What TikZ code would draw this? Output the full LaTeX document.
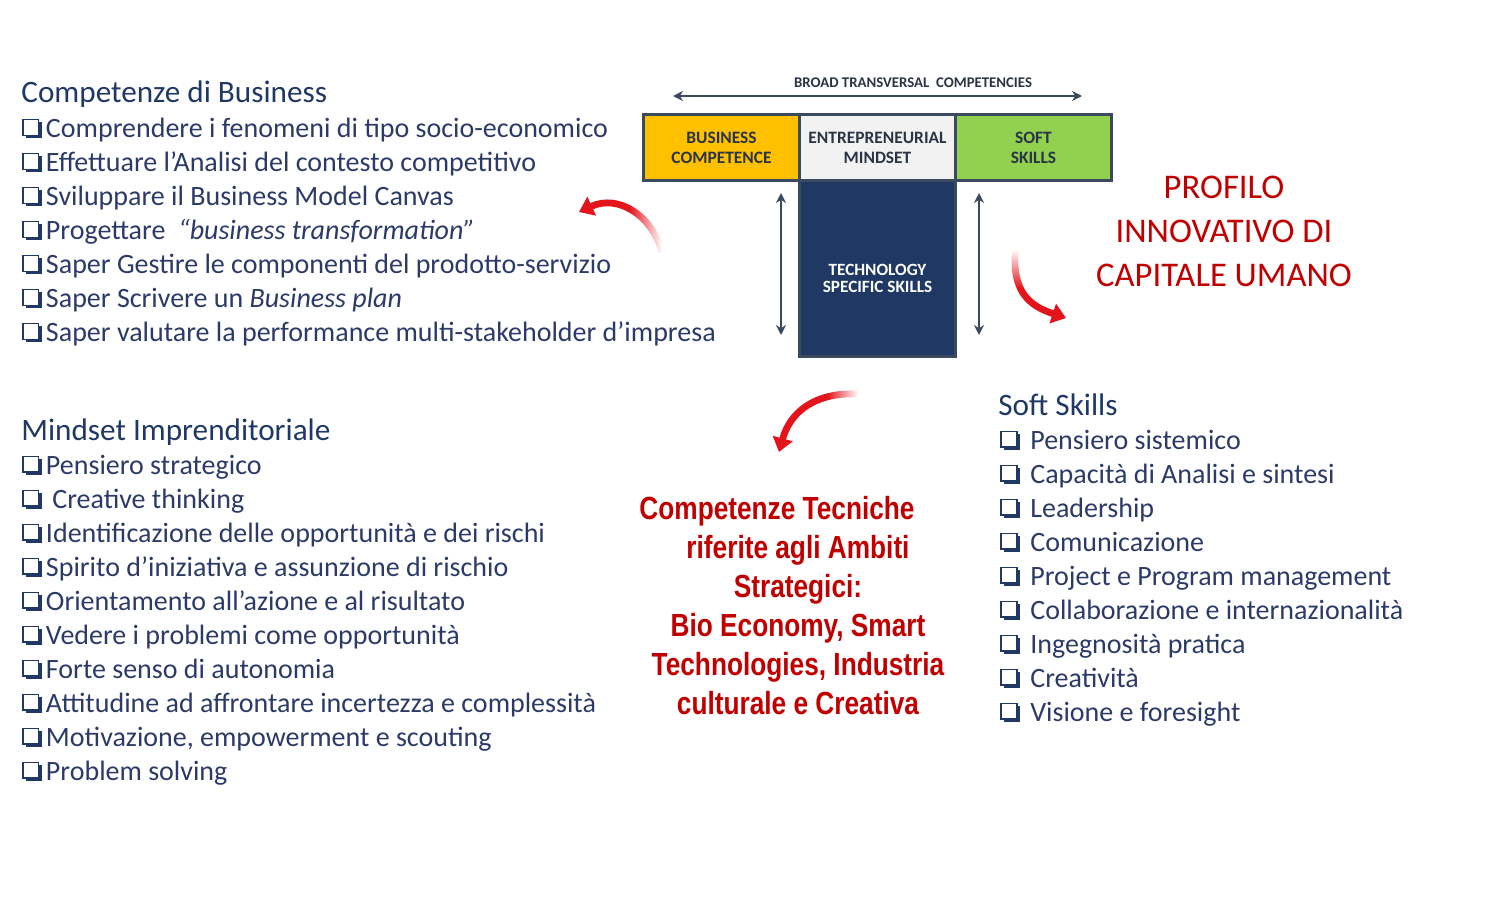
\documentclass[tikz,border=0pt]{standalone}
\usepackage{fontspec}
\setmainfont{Carlito}
\newfontfamily\narrowfont[FakeStretch=0.82]{Liberation Sans}
\usepackage{xcolor}
\usepackage{tikz}
\usetikzlibrary{arrows.meta,positioning,fadings}
\definecolor{NavyText}{HTML}{1F3864}
\definecolor{ItemText}{HTML}{2B3A67}
\definecolor{CellText}{HTML}{2B3445}
\definecolor{BizYellow}{HTML}{FFC000}
\definecolor{MindGrey}{HTML}{F2F2F2}
\definecolor{SoftGreen}{HTML}{92D050}
\definecolor{TechNavy}{HTML}{1F3864}
\definecolor{FrameSlate}{HTML}{3B4A5E}
\definecolor{ProfileRed}{HTML}{C00000}
\definecolor{ArrowRed}{HTML}{E3141B}
% shadowed check box
\newcommand{\chk}{\tikz[baseline=0pt,x=1pt,y=1pt]{\fill[NavyText] (1.6,-0.3) rectangle (9.8,7.9); \filldraw[NavyText,fill=white,line width=0.7pt] (0.35,1.25) rectangle (8.2,9.1);}\hspace{2pt}}
% fade out only the tail of the red arrows
\pgfdeclarehorizontalshading{tailshadeE}{100bp}{color(0bp)=(white); color(55bp)=(white); color(73bp)=(black); color(100bp)=(black)}
\pgfdeclareverticalshading{tailshadeN}{100bp}{color(0bp)=(white); color(46bp)=(white); color(70bp)=(black); color(100bp)=(black)}
\tikzfading[name=fadetaileast, shading=tailshadeE]
\tikzfading[name=fadetailnorth, shading=tailshadeN]

\begin{document}
\begin{tikzpicture}[
  x=0.5pt, y=-0.5pt,
  head/.style={anchor=base west,inner sep=0pt,text=NavyText,font=\fontsize{15.6}{19}\selectfont},
  items/.style={anchor=north west,inner sep=0pt,align=left,text=ItemText,font=\fontsize{14}{17}\selectfont},
  cell/.style={draw=FrameSlate,line width=1.5pt,outer sep=0pt,inner sep=0pt,minimum width=78pt,minimum height=32.7pt,align=center,text=CellText,font=\bfseries\fontsize{8.7}{10}\selectfont,execute at begin node=\rule{0pt}{8.3pt}},
  dbl/.style={{Stealth[length=5pt,width=5pt]}-{Stealth[length=5pt,width=5pt]},line width=1pt,FrameSlate},
  curl/.style={-{Triangle[length=7pt,width=10pt]},line width=3.4pt,ArrowRed}
]
  \useasboundingbox (0,0) rectangle (1500,900);

  % T-shaped competence model
  \node[cell, fill=BizYellow] (biz) at (721.5,147.5) {BUSINESS\\COMPETENCE};
  \node[cell, fill=MindGrey, right=0pt of biz] (mind) {ENTREPRENEURIAL\\MINDSET};
  \node[cell, fill=SoftGreen, right=0pt of mind] (soft) {SOFT\\SKILLS};
  \node[cell, fill=TechNavy, minimum height=88pt, below=0pt of mind] (tech) {};
  \node[text=white, font=\bfseries\fontsize{8.6}{8.7}\selectfont, align=center] (techtext) at ([yshift=-5pt]tech.center) {TECHNOLOGY\\SPECIFIC SKILLS};

  \node[font=\bfseries\fontsize{7.4}{9}\selectfont, text=CellText] (broad) at (913,83) {BROAD TRANSVERSAL\ \ COMPETENCIES};
  \coordinate (broadL) at (673,96);
  \coordinate (broadR) at (1082,96);
  \draw[dbl] (broadL) -- (broadR);

  \coordinate (depthLtop) at (781,193);
  \coordinate (depthLbot) at (781,335);
  \coordinate (depthRtop) at (979,193);
  \coordinate (depthRbot) at (979,335);
  \draw[dbl] (depthLtop) -- (depthLbot);
  \draw[dbl] (depthRtop) -- (depthRbot);

  % lists
  \node[head] (bizhead) at (21,102) {Competenze di Business};
  \node[items] (bizlist) at (22,118) {\chk Comprendere i fenomeni di tipo socio-economico\\
    \chk Effettuare l’Analisi del contesto competitivo\\
    \chk Sviluppare il Business Model Canvas\\
    \chk Progettare\ \ \textit{“business transformation”}\\
    \chk Saper Gestire le componenti del prodotto-servizio\\
    \chk Saper Scrivere un \textit{Business plan}\\
    \chk Saper valutare la performance multi-stakeholder d’impresa};

  \node[head] (mindhead) at (21,440) {Mindset Imprenditoriale};
  \node[items] (mindlist) at (22,455) {\chk Pensiero strategico\\
    \chk\ Creative thinking\\
    \chk Identificazione delle opportunità e dei rischi\\
    \chk Spirito d’iniziativa e assunzione di rischio\\
    \chk Orientamento all’azione e al risultato\\
    \chk Vedere i problemi come opportunità\\
    \chk Forte senso di autonomia\\
    \chk Attitudine ad affrontare incertezza e complessità\\
    \chk Motivazione, empowerment e scouting\\
    \chk Problem solving};

  \node[head] (softhead) at (998,415) {Soft Skills};
  \node[items] (softlist) at (1000,430) {\chk\ Pensiero sistemico\\
    \chk\ Capacità di Analisi e sintesi\\
    \chk\ Leadership\\
    \chk\ Comunicazione\\
    \chk\ Project e Program management\\
    \chk\ Collaborazione e internazionalità\\
    \chk\ Ingegnosità pratica\\
    \chk\ Creatività\\
    \chk\ Visione e foresight};

  % red captions
  \node[align=center, text=ProfileRed, font=\fontsize{17.3}{22}\selectfont] (profilo) at (1224,231) {PROFILO\\INNOVATIVO DI\\CAPITALE UMANO};
  \node[align=center, text=ProfileRed, font=\narrowfont\bfseries\fontsize{16}{19.5}\selectfont] (ambiti) at (798,606) {Competenze Tecniche\hspace*{21pt}\\riferite agli Ambiti\\Strategici:\\Bio Economy, Smart\\Technologies, Industria\\culturale e Creativa};

  % curved red arrows
  \coordinate (curlAtail) at (662,252);
  \coordinate (curlAtip) at (579,212);
  \draw[curl, path fading=fadetaileast] (curlAtail) .. controls (652,215) and (618,194) .. (curlAtip);
  \coordinate (curlBtail) at (1016,245);
  \coordinate (curlBtip) at (1066,318);
  \draw[curl, path fading=fadetailnorth] (curlBtail) .. controls (1010,292) and (1030,306) .. (curlBtip);
  \coordinate (curlCtail) at (858,394);
  \coordinate (curlCtip) at (779,452);
  \draw[curl, path fading=fadetaileast] (curlCtail) .. controls (815,392) and (790,412) .. (curlCtip);
\end{tikzpicture}
\end{document}
